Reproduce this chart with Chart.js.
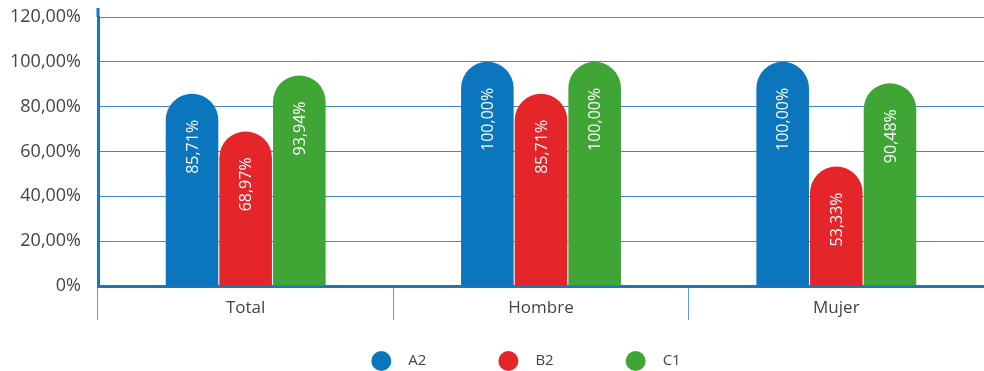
<!DOCTYPE html>
<html>
<head>
<meta charset="utf-8">
<script src="https://cdn.jsdelivr.net/npm/chart.js@4"></script>
<style>
html,body{margin:0;padding:0;background:#fff;}
#wrap{width:984px;height:371px;position:relative;}
</style>
</head>
<body>
<div id="wrap"><canvas id="c" width="984" height="371"></canvas></div>
<script>
const categories = ["Total", "Hombre", "Mujer"];
const seriesNames = ["A2", "B2", "C1"];
const valuesA2 = [85.71, 100.00, 100.00];
const valuesB2 = [68.97, 85.71, 53.33];
const valuesC1 = [93.94, 100.00, 90.48];
const yTicks = [0, 20, 40, 60, 80, 100, 120];

const colors = ["#0b76bd", "#e4262b", "#3fa535"];
const FONT = "'Open Sans', sans-serif";

function fmt(v){ return v === 0 ? "0%" : v.toFixed(2).replace(".", ",") + "%"; }

const labelPlugin = {
  id: "barLabels",
  afterDatasetsDraw(chart){
    const ctx = chart.ctx;
    chart.data.datasets.forEach((ds, di) => {
      const meta = chart.getDatasetMeta(di);
      meta.data.forEach((bar, i) => {
        const v = ds.data[i];
        ctx.save();
        ctx.translate(bar.x, bar.y + 26);
        ctx.rotate(-Math.PI / 2);
        ctx.font = "16px " + FONT;
        ctx.fillStyle = "#ffffff";
        ctx.textAlign = "right";
        ctx.textBaseline = "middle";
        ctx.fillText(fmt(v), 0, 1);
        ctx.restore();
      });
    });
  },
  afterDraw(chart){
    const ctx = chart.ctx;
    const a = chart.chartArea;
    ctx.save();
    ctx.strokeStyle = "#1778bf";
    ctx.lineWidth = 3;
    ctx.beginPath();
    ctx.moveTo(a.left, a.top - 9);
    ctx.lineTo(a.left, a.top);
    ctx.stroke();
    ctx.restore();
    ctx.save();
    ctx.font = "15px " + FONT;
    ctx.textBaseline = "middle";
    const r = 10, gapText = 17, gapItem = 82;
    const widths = seriesNames.map(n => r + gapText + ctx.measureText(n).width);
    const total = widths.reduce((s, w) => s + w, 0) + gapItem * (seriesNames.length - 1) + r;
    let x = (a.left + a.right) / 2 - 15 - total / 2 + r;
    const y = 361;
    seriesNames.forEach((n, i) => {
      ctx.fillStyle = colors[i];
      ctx.beginPath();
      ctx.arc(x, y, r, 0, Math.PI * 2);
      ctx.fill();
      ctx.fillStyle = "#444";
      ctx.textAlign = "left";
      ctx.fillText(n, x + r + gapText, y);
      x += widths[i] + gapItem;
    });
    ctx.restore();
  }
};

const seriesValues = [valuesA2, valuesB2, valuesC1];

new Chart(document.getElementById("c"), {
  type: "bar",
  data: {
    labels: categories,
    datasets: seriesNames.map((n, i) => ({
      label: n,
      data: seriesValues[i],
      backgroundColor: colors[i],
      borderWidth: 0,
      borderRadius: {topLeft: 40, topRight: 40, bottomLeft: 0, bottomRight: 0},
      borderSkipped: "bottom",
      categoryPercentage: 0.545,
      barPercentage: 0.98
    }))
  },
  options: {
    responsive: false,
    animation: false,
    layout: {padding: {top: 17, right: 0, left: 0, bottom: 0}},
    plugins: {legend: {display: false}, tooltip: {enabled: false}},
    scales: {
      x: {
        offset: true,
        grid: {
          offset: true,
          drawOnChartArea: false,
          drawTicks: true,
          tickLength: 34,
          color: "#5b9bd0",
          lineWidth: 1
        },
        border: {display: true, color: "#1778bf", width: 3},
        ticks: {
          color: "#444",
          font: {family: FONT, size: 17},
          padding: -22
        },
        afterFit(s){ s.height = 85; s.paddingLeft = 0; s.paddingRight = 0; }
      },
      y: {
        min: 0,
        max: 120,
        afterBuildTicks(s){ s.ticks = yTicks.map(v => ({value: v})); },
        grid: {
          color: "#3f8bc9",
          lineWidth: 1,
          drawTicks: false
        },
        border: {display: true, color: "#1778bf", width: 3},
        ticks: {
          color: "#444",
          font: {family: FONT, size: 18},
          padding: 17,
          callback: v => fmt(v)
        },
        afterFit(s){ s.width = 98; s.paddingTop = 0; s.paddingBottom = 0; }
      }
    }
  },
  plugins: [labelPlugin]
});
</script>
</body>
</html>
